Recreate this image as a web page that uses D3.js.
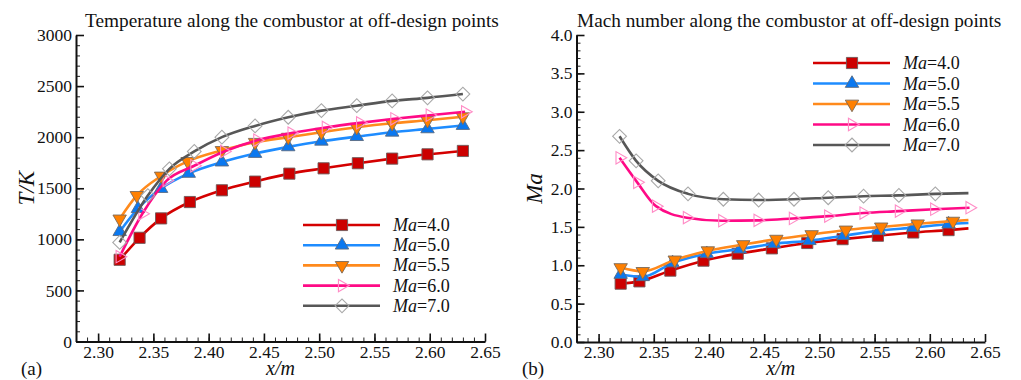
<!DOCTYPE html>
<html>
<head>
<meta charset="utf-8">
<script src="https://cdn.jsdelivr.net/npm/d3@7"></script>
<style>
  html, body { margin: 0; padding: 0; background: #fff; }
  svg, svg text { font-family: "Liberation Serif", "Times New Roman", serif; }
</style>
</head>
<body>
<svg id="chart" width="1021" height="380"></svg>
<script>
// ---- tick labels ----
const xTicks = [2.30, 2.35, 2.40, 2.45, 2.50, 2.55, 2.60, 2.65];
const tempTicks = [0, 500, 1000, 1500, 2000, 2500, 3000];
const machTicks = [0.0, 0.5, 1.0, 1.5, 2.0, 2.5, 3.0, 3.5, 4.0];

// ---- series (flight Mach number) ----
const seriesNames = ["4.0", "5.0", "5.5", "6.0", "7.0"];

// (a) static temperature T [K] along x [m]
const tempX_40 = [2.3195, 2.3375, 2.357, 2.383, 2.412, 2.442, 2.473, 2.504, 2.535, 2.566, 2.598, 2.630];
const tempY_40 = [800, 1015, 1205, 1365, 1480, 1565, 1643, 1695, 1745, 1790, 1832, 1865];
const tempX_50 = [2.3195, 2.336, 2.357, 2.382, 2.412, 2.442, 2.472, 2.502, 2.534, 2.566, 2.598, 2.630];
const tempY_50 = [1075, 1300, 1497, 1645, 1756, 1840, 1905, 1960, 2005, 2048, 2081, 2114];
const tempX_55 = [2.3195, 2.335, 2.357, 2.381, 2.412, 2.442, 2.472, 2.502, 2.534, 2.566, 2.598, 2.630];
const tempY_55 = [1200, 1430, 1620, 1763, 1870, 1950, 2000, 2048, 2097, 2136, 2165, 2200];
const tempX_60 = [2.3195, 2.340, 2.362, 2.387, 2.414, 2.444, 2.475, 2.506, 2.537, 2.568, 2.600, 2.632];
const tempY_60 = [830, 1250, 1575, 1720, 1860, 1970, 2040, 2095, 2140, 2180, 2215, 2248];
const tempX_70 = [2.3195, 2.345, 2.3645, 2.387, 2.412, 2.442, 2.472, 2.502, 2.534, 2.566, 2.598, 2.630];
const tempY_70 = [970, 1428, 1690, 1860, 2000, 2110, 2195, 2260, 2308, 2355, 2385, 2422];

// (b) Mach number Ma along x [m]
const machX_40 = [2.320, 2.337, 2.365, 2.395, 2.426, 2.457, 2.489, 2.521, 2.553, 2.585, 2.617];
const machY_40 = [0.76, 0.79, 0.93, 1.06, 1.15, 1.22, 1.29, 1.34, 1.385, 1.427, 1.458];
const machX_50 = [2.320, 2.340, 2.367, 2.398, 2.428, 2.459, 2.491, 2.522, 2.554, 2.585, 2.617];
const machY_50 = [0.88, 0.85, 1.03, 1.15, 1.21, 1.28, 1.32, 1.385, 1.45, 1.49, 1.535];
const machX_55 = [2.320, 2.340, 2.369, 2.399, 2.431, 2.461, 2.493, 2.524, 2.556, 2.589, 2.621];
const machY_55 = [0.97, 0.92, 1.07, 1.19, 1.27, 1.34, 1.40, 1.46, 1.50, 1.54, 1.575];
const machX_60 = [2.319, 2.335, 2.352, 2.380, 2.412, 2.444, 2.476, 2.508, 2.540, 2.572, 2.604, 2.636];
const machY_60 = [2.40, 2.08, 1.77, 1.62, 1.58, 1.585, 1.61, 1.64, 1.68, 1.705, 1.73, 1.75];
const machX_70 = [2.319, 2.334, 2.354, 2.381, 2.413, 2.445, 2.477, 2.508, 2.540, 2.572, 2.605];
const machY_70 = [2.68, 2.36, 2.10, 1.93, 1.86, 1.85, 1.86, 1.88, 1.90, 1.91, 1.93];
// curve end points past the last symbol (null: curve ends on a symbol)
const machTailX = [2.635, 2.635, 2.635, null, 2.635];
const machTailY = [1.48, 1.55, 1.59, null, 1.94];

// ---- styling ----
const styles = [
  { line: "#d40000", fill: "#cc0000", stroke: "#6e5a5a", shape: "square" },
  { line: "#1e8cff", fill: "#0a78f0", stroke: "#5a6a80", shape: "triUp" },
  { line: "#ff8a1c", fill: "#ff8000", stroke: "#7a6a5a", shape: "triDown" },
  { line: "#ff0a86", fill: "none",   stroke: "#ff8cc6", shape: "triRight" },
  { line: "#575757", fill: "none",   stroke: "#a8a8a8", shape: "diamond" }
];

const SERIF = '"Liberation Serif", "Times New Roman", serif';
const svg = d3.select("#chart");
const FONT = 17.5;

function symbolPath(shape) {
  switch (shape) {
    case "square":   return { d: d3.symbol(d3.symbolSquare, 125)(), rot: 0 };
    case "triUp":    return { d: d3.symbol(d3.symbolTriangle, 78)(), rot: 0 };
    case "triDown":  return { d: d3.symbol(d3.symbolTriangle, 78)(), rot: 180 };
    case "triRight": return { d: d3.symbol(d3.symbolTriangle, 66)(), rot: 90 };
    case "diamond":  return { d: d3.symbol(d3.symbolSquare, 95)(), rot: 45 };
  }
}

function drawPanel(opt) {
  const g = svg.append("g");
  const x = opt.x, y = opt.y;
  const [x0, x1] = x.range();
  const [y0, y1] = y.range();

  // minor ticks
  const xMinor = d3.range(2.28, 2.6501, 0.01).map(v => +v.toFixed(2));
  g.append("g").attr("transform", `translate(0,${y0})`)
    .call(d3.axisBottom(x).tickValues(xMinor).tickSize(-4).tickFormat(""))
    .call(a => a.select(".domain").remove())
    .call(a => a.selectAll("line").attr("stroke", "#222").attr("stroke-width", 1));
  g.append("g").attr("transform", `translate(${x0},0)`)
    .call(d3.axisLeft(y).tickValues(opt.yMinor).tickSize(-4).tickFormat(""))
    .call(a => a.select(".domain").remove())
    .call(a => a.selectAll("line").attr("stroke", "#222").attr("stroke-width", 1));

  // major axes
  const xa = g.append("g").attr("transform", `translate(0,${y0})`)
    .call(d3.axisBottom(x).tickValues(xTicks).tickSize(-8).tickSizeOuter(0)
      .tickPadding(4).tickFormat(d3.format(".2f")));
  const ya = g.append("g").attr("transform", `translate(${x0},0)`)
    .call(d3.axisLeft(y).tickValues(opt.yTicks).tickSize(-8).tickSizeOuter(0)
      .tickPadding(4).tickFormat(opt.yFormat));
  [xa, ya].forEach(a => {
    a.attr("font-family", null).attr("font-size", null);
    a.select(".domain").attr("stroke", "#111").attr("stroke-width", 2);
    a.selectAll(".tick line").attr("stroke", "#111").attr("stroke-width", 1.6);
    a.selectAll("text").style("font-size", FONT + "px").attr("fill", "#111")
      .style("font-family", SERIF);
  });

  // title
  g.append("text").attr("x", opt.titleX).attr("y", 27)
    .style("font-size", "19.3px").style("font-family", SERIF)
    .attr("fill", "#111").text(opt.title);

  // axis titles
  g.append("text").attr("x", (x0 + x1) / 2).attr("y", 375)
    .attr("text-anchor", "middle").style("font-size", "20px").style("font-style", "italic")
    .style("font-family", SERIF).attr("fill", "#111").text("x/m");
  g.append("text").attr("transform", `translate(${opt.yLabelX},${(y0 + y1) / 2}) rotate(-90)`)
    .attr("text-anchor", "middle").style("font-size", "23px").style("font-style", "italic")
    .style("font-family", SERIF).attr("fill", "#111").text(opt.yLabel);

  // panel tag
  g.append("text").attr("x", opt.tagX).attr("y", 375)
    .style("font-size", "19px").style("font-family", SERIF).attr("fill", "#111").text(opt.tag);

  // curves and symbols
  const line = d3.line().x(d => x(d[0])).y(d => y(d[1])).curve(d3.curveMonotoneX);
  opt.series.forEach((s, i) => {
    const st = styles[i];
    const pts = s.xs.map((v, k) => [v, s.ys[k]]);
    const linePts = s.tail ? pts.concat([s.tail]) : pts;
    g.append("path").datum(linePts).attr("d", line)
      .attr("fill", "none").attr("stroke", st.line).attr("stroke-width", 2.6);
    const sym = symbolPath(st.shape);
    g.append("g").selectAll("path").data(pts).join("path")
      .attr("d", sym.d)
      .attr("transform", d => `translate(${x(d[0])},${y(d[1])}) rotate(${sym.rot})`)
      .attr("fill", st.fill).attr("stroke", st.stroke)
      .attr("stroke-width", st.fill === "none" ? 1.1 : 0.9);
  });

  // legend
  const lg = g.append("g");
  seriesNames.forEach((name, i) => {
    const st = styles[i];
    const cy = opt.legendY + i * opt.legendStep;
    lg.append("line").attr("x1", opt.legendX).attr("x2", opt.legendX + 77)
      .attr("y1", cy).attr("y2", cy).attr("stroke", st.line).attr("stroke-width", 2.6);
    const sym = symbolPath(st.shape);
    lg.append("path").attr("d", sym.d)
      .attr("transform", `translate(${opt.legendX + 39},${cy}) rotate(${sym.rot})`)
      .attr("fill", st.fill).attr("stroke", st.stroke)
      .attr("stroke-width", st.fill === "none" ? 1.1 : 0.9);
    const t = lg.append("text").attr("x", opt.legendX + 90).attr("y", cy + 6)
      .style("font-size", "18px").style("font-family", SERIF).attr("fill", "#111");
    t.append("tspan").style("font-style", "italic").text("Ma");
    t.append("tspan").text("=" + name);
  });
}

// (a) temperature
drawPanel({
  x: d3.scaleLinear([2.28, 2.65], [76, 485]),
  y: d3.scaleLinear([0, 3000], [341.5, 35]),
  yTicks: tempTicks,
  yMinor: d3.range(0, 3001, 100),
  yFormat: d3.format("d"),
  title: "Temperature along the combustor at off-design points",
  titleX: 85,
  yLabel: "T/K",
  yLabelX: 34,
  tag: "(a)",
  tagX: 21,
  legendX: 303, legendY: 225, legendStep: 20.2,
  series: [
    { xs: tempX_40, ys: tempY_40 },
    { xs: tempX_50, ys: tempY_50 },
    { xs: tempX_55, ys: tempY_55 },
    { xs: tempX_60, ys: tempY_60 },
    { xs: tempX_70, ys: tempY_70 }
  ]
});

// (b) Mach number
const machSeries = [
  [machX_40, machY_40], [machX_50, machY_50], [machX_55, machY_55],
  [machX_60, machY_60], [machX_70, machY_70]
].map((p, i) => ({
  xs: p[0], ys: p[1],
  tail: machTailX[i] === null ? null : [machTailX[i], machTailY[i]]
}));

drawPanel({
  x: d3.scaleLinear([2.28, 2.65], [576.5, 985]),
  y: d3.scaleLinear([0, 4], [342, 35]),
  yTicks: machTicks,
  yMinor: d3.range(0, 41, 1).map(v => v / 10),
  yFormat: d3.format(".1f"),
  title: "Mach number along the combustor at off-design points",
  titleX: 577,
  yLabel: "Ma",
  yLabelX: 542,
  tag: "(b)",
  tagX: 522,
  legendX: 813, legendY: 63, legendStep: 20.5,
  series: machSeries
});
</script>
</body>
</html>
